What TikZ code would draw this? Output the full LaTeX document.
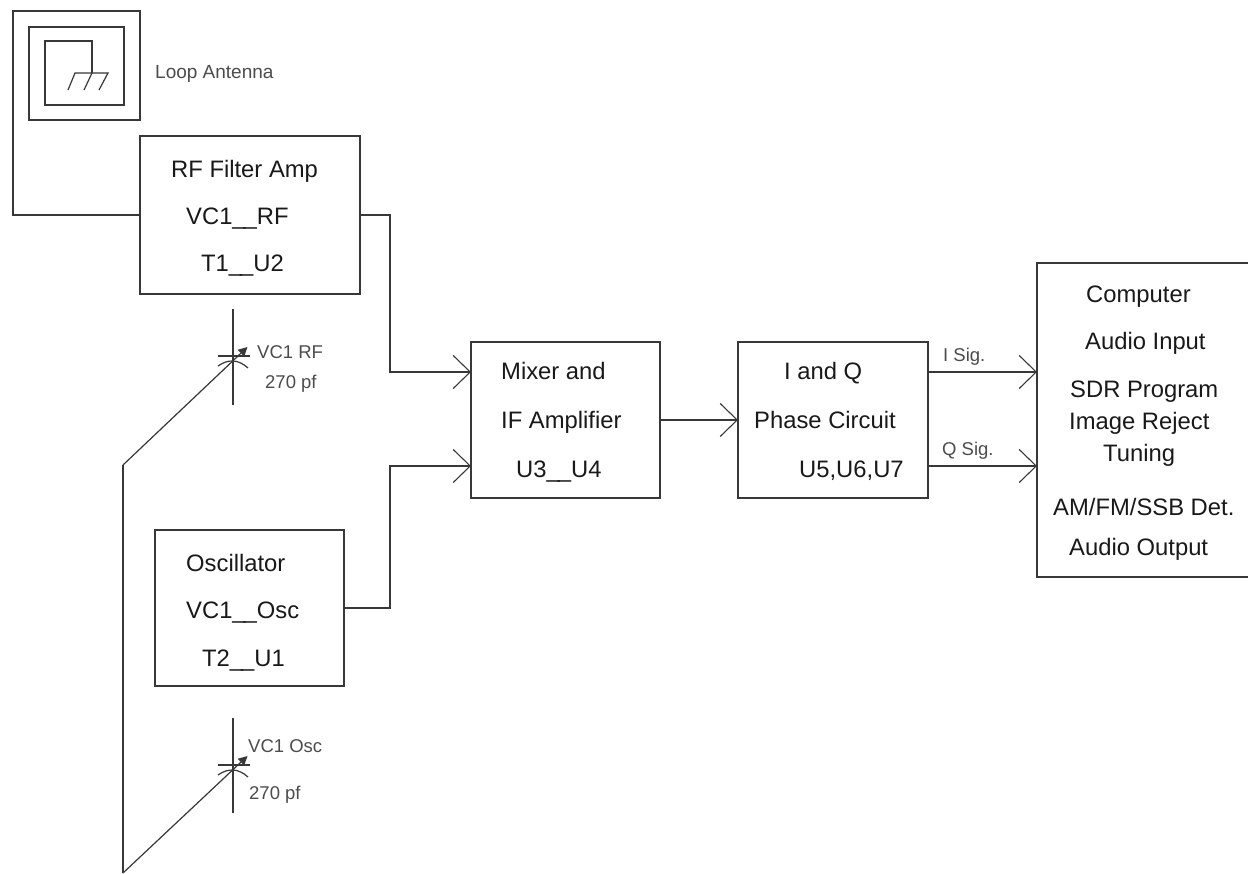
\documentclass[tikz,border=0pt]{standalone}
\usepackage{fontspec}
\setmainfont{Liberation Sans}
\usetikzlibrary{arrows.meta}
\definecolor{ln}{gray}{0.22}
\definecolor{sm}{gray}{0.3}
\newcommand{\dbar}{\_\kern-2pt\_}
\tikzset{
  x=1pt,y=-1pt,
  wire/.style={draw=ln,line width=1.5pt,line join=miter},
  thin wire/.style={draw=ln,line width=1.2pt},
  blockbox/.style={draw=ln,line width=1.5pt,fill=white,inner sep=0pt,outer sep=0pt,anchor=north west},
  big/.style={font=\fontsize{23.8}{26}\selectfont,text=black!90,inner sep=0pt,anchor=base west},
  small/.style={font=\fontsize{18.5}{21}\selectfont,text=sm,inner sep=0pt,anchor=base west},
  vee/.style={-{Straight Barb[length=17pt,width=33pt,line width=1.1pt]}},
  tune/.style={-{Triangle[length=9pt,width=9pt]}},
}
\begin{document}
\begin{tikzpicture}
\useasboundingbox (0,0) rectangle (1248,874);
\fill[white] (0,0) rectangle (1248,874);
% blocks
\node[blockbox,minimum width=220pt,minimum height=158pt] (rf) at (140,136) {};
\node[blockbox,minimum width=189pt,minimum height=156pt] (mix) at (471,342) {};
\node[blockbox,minimum width=190pt,minimum height=156pt] (iq) at (738,342) {};
\node[blockbox,minimum width=189pt,minimum height=156pt] (osc) at (155,530) {};
\node[blockbox,minimum width=214pt,minimum height=314pt] (comp) at (1037,263) {};
% antenna
\coordinate (a1) at (13,215);
\coordinate (a2) at (13,11);
\coordinate (a3) at (140,11);
\coordinate (a4) at (140,120);
\coordinate (a5) at (29,120);
\coordinate (a6) at (29,27);
\coordinate (a7) at (124,27);
\coordinate (a8) at (124,105);
\coordinate (a9) at (45,105);
\coordinate (a10) at (45,41);
\coordinate (a11) at (92,41);
\coordinate (gnd) at (92,73);
\draw[wire] (rf.west) -- (rf.west -| a1) -- (a2) -- (a3) -- (a4) -- (a5) -- (a6) -- (a7) -- (a8) -- (a9) -- (a10) -- (a11) -- (gnd);
\draw[thin wire] (68,90) -- (75,73) -- (108,73) -- (99,90);
\draw[thin wire] (gnd) -- (84,90);
\node[small] (lbl) at (155,79) {\fontsize{19}{21}\selectfont Loop Antenna};
% connectors
\coordinate (mixa) at (471,372);
\coordinate (mixb) at (471,466);
\coordinate (ci) at (1037,372);
\coordinate (cq) at (1037,466);
\coordinate (iqi) at (928,372);
\coordinate (iqq) at (928,466);
\draw[wire,vee] (rf.east) -- ++(30,0) |- (mixa);
\draw[wire,vee] (osc.east) -- ++(46,0) |- (mixb);
\draw[wire,vee] (mix.east) -- (iq.west);
\draw[wire,vee] (iqi) -- (ci);
\draw[wire,vee] (iqq) -- (cq);
% capacitors
\coordinate (c1t) at (233,309);
\coordinate (c1b) at (233,405);
\coordinate (c2t) at (233,718);
\coordinate (c2b) at (233,813);
\coordinate (bend) at (123,465);
\coordinate (foot) at (123,873);
\coordinate (tip1) at (247.5,347);
\coordinate (tip2) at (247.5,756);
\draw[wire] (c1t) -- (c1b);
\draw[wire] (218,356) -- (250,356);
\draw[thin wire] (218,366) .. controls (228,359) and (238,359) .. (248,368);
\draw[wire] (c2t) -- (c2b);
\draw[wire] (218,765) -- (250,765);
\draw[thin wire] (218,775) .. controls (228,768) and (238,768) .. (248,777);
\draw[thin wire,tune] (foot) -- (tip2);
\draw[thin wire] (foot) -- (bend);
\draw[thin wire,tune] (bend) -- (tip1);
\node[small] (v1) at (257,359) {VC1 RF};
\node[small] (v1p) at (265,389) {270 pf};
\node[small] (v2) at (248,752) {VC1 Osc};
\node[small] (v2p) at (249,799) {270 pf};
\node[small] (is) at (943,362) {I Sig.};
\node[small] (qs) at (942,456) {Q Sig.};
% block texts
\node[big] (t1) at (171,178) {RF Filter Amp};
\node[big] (t2) at (186,225) {VC1\dbar RF};
\node[big] (t3) at (201,272) {T1\dbar U2};
\node[big] (t4) at (501,380) {Mixer and};
\node[big] (t5) at (501,429) {IF Amplifier};
\node[big] (t6) at (516,477) {U3\dbar U4};
\node[big] (t7) at (784,380) {I and Q};
\node[big] (t8) at (754,429) {Phase Circuit};
\node[big] (t9) at (799,477) {U5,U6,U7};
\node[big] (t10) at (186,571) {Oscillator};
\node[big] (t11) at (186,618) {VC1\dbar Osc};
\node[big] (t12) at (202,666) {T2\dbar U1};
\node[big] (t13) at (1086,303) {Computer};
\node[big] (t14) at (1085,350) {Audio Input};
\node[big] (t15) at (1070,398) {SDR Program};
\node[big] (t16) at (1069,430) {Image Reject};
\node[big] (t17) at (1103,461) {Tuning};
\node[big] (t18) at (1053,515) {AM/FM/SSB Det.};
\node[big] (t19) at (1069,555) {Audio Output};
\end{tikzpicture}
\end{document}
